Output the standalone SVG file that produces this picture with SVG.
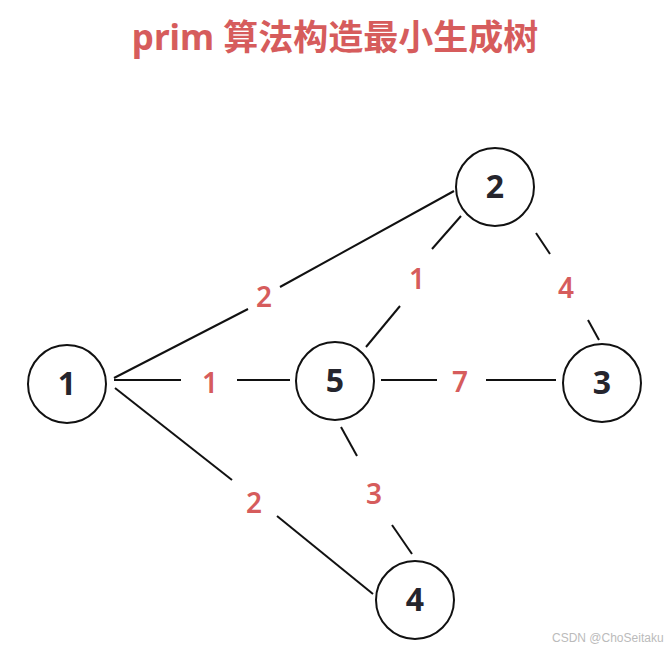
<svg xmlns="http://www.w3.org/2000/svg" width="668" height="652" viewBox="0 0 668 652">
<style>
.node circle{fill:#fff;stroke:#111;stroke-width:2}
.node text{font-family:"Noto Sans","Open Sans",sans-serif;font-weight:700;font-size:32px;fill:#25252d;text-anchor:middle}
.edges line{stroke:#111;stroke-width:2}
.lbl{font-family:"Noto Sans","Open Sans",sans-serif;font-weight:600;font-size:28px;fill:#d65c5c;text-anchor:middle}
.title{font-family:"Noto Sans","Noto Sans CJK SC",sans-serif;font-weight:700;font-size:35px;fill:#d65c5c;text-anchor:middle}
.wm{font-family:"Liberation Sans",sans-serif;font-size:12px;fill:#bbb}
</style>
<rect width="668" height="652" fill="#fff"/>
<text class="title" x="335" y="50" font-family="Noto Sans CJK SC, sans-serif">prim 算法构造最小生成树</text>
<g class="edges" id="edges">
<line x1="114" y1="378" x2="248" y2="309"/>
<line x1="280" y1="287" x2="454" y2="191"/>
<line x1="114" y1="380" x2="181" y2="380"/>
<line x1="237" y1="380" x2="290" y2="380"/>
<line x1="115" y1="388" x2="232" y2="480"/>
<line x1="277" y1="516" x2="373" y2="594"/>
<line x1="461" y1="216" x2="432" y2="249"/>
<line x1="400" y1="306" x2="366" y2="347"/>
<line x1="536" y1="233" x2="550" y2="254"/>
<line x1="588" y1="320" x2="599" y2="340"/>
<line x1="381" y1="380" x2="437" y2="380"/>
<line x1="486" y1="380" x2="556" y2="380"/>
<line x1="341" y1="427" x2="357" y2="456"/>
<line x1="392" y1="525" x2="412" y2="554"/>
<text class="lbl" x="264" y="307">2</text>
<text class="lbl" x="210" y="393">1</text>
<text class="lbl" x="254" y="513">2</text>
<text class="lbl" x="417" y="289">1</text>
<text class="lbl" x="566" y="298">4</text>
<text class="lbl" x="460" y="392">7</text>
<text class="lbl" x="374" y="504">3</text>
</g>
<g class="node" id="node1"><circle cx="67" cy="384" r="39"/><text x="67" y="395">1</text></g>
<g class="node" id="node2"><circle cx="495" cy="187" r="39"/><text x="495" y="198">2</text></g>
<g class="node" id="node3"><circle cx="602" cy="383" r="39"/><text x="602" y="394">3</text></g>
<g class="node" id="node4"><circle cx="415" cy="600" r="39"/><text x="415" y="611">4</text></g>
<g class="node" id="node5"><circle cx="335" cy="381" r="39"/><text x="335" y="392">5</text></g>
<text class="wm" x="552" y="642">CSDN @ChoSeitaku</text>
</svg>
